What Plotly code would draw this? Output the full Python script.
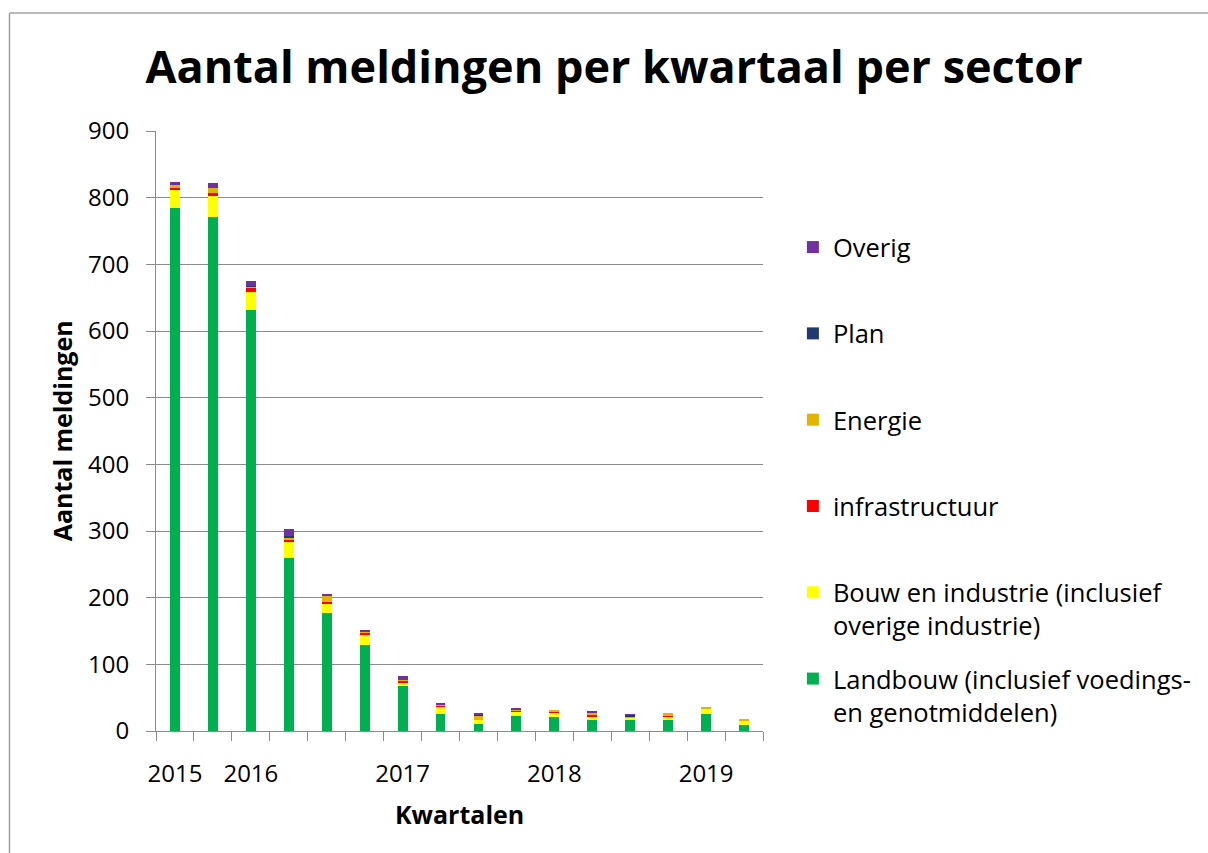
import plotly.graph_objects as go

# ---------------- data ----------------
quarters = ["2015 Q3", "2015 Q4", "2016 Q1", "2016 Q2", "2016 Q3", "2016 Q4",
            "2017 Q1", "2017 Q2", "2017 Q3", "2017 Q4", "2018 Q1", "2018 Q2",
            "2018 Q3", "2018 Q4", "2019 Q1", "2019 Q2"]
landbouw = [785, 771, 631, 260, 177, 129, 68, 26, 11, 22, 21, 16, 16, 17, 26, 9]
bouw = [26, 32, 27, 24, 14, 15, 5, 11, 6, 7, 7, 6, 4, 4, 8, 7]
infrastructuur = [4, 4, 7, 3, 2, 3, 2, 1, 0, 1, 1, 2, 0, 1, 0, 0]
energie = [4, 8, 2, 2, 10, 2, 2, 1, 6, 2, 2, 3, 2, 5, 2, 1]
plan = [0, 0, 1, 3, 0, 0, 0, 0, 2, 0, 0, 0, 2, 0, 0, 0]
overig = [5, 7, 7, 11, 2, 3, 6, 3, 1, 2, 0, 3, 1, 0, 0, 0]

tick_positions = [1, 3, 7, 11, 15]
tick_labels = ["2015", "2016", "2017", "2018", "2019"]

series = [
    ("Landbouw (inclusief voedings-<br>en genotmiddelen)", landbouw, "#00B050"),
    ("Bouw en industrie (inclusief<br>overige industrie)", bouw, "#FFFF00"),
    ("infrastructuur<br> ", infrastructuur, "#FF0000"),
    ("Energie<br> ", energie, "#E0B400"),
    ("Plan<br> ", plan, "#1F3A6E"),
    ("Overig<br> ", overig, "#7030A0"),
]

# ---------------- layout geometry ----------------
W, H = 1208, 853
ML, MR, MT, MB = 156, 443, 131, 122
PW, PH = W - ML - MR, H - MT - MB


def px_x(p):
    return (p - ML) / PW


def px_y(p):
    return (H - MB - p) / PH


FONT = "Open Sans"
xs = list(range(1, len(quarters) + 1))

fig = go.Figure()
n = len(series)
for i, (name, vals, col) in enumerate(series):
    fig.add_trace(go.Bar(
        x=xs, y=vals, name=name, marker=dict(color=col, line=dict(width=0)),
        legendgroup=str(i), legendrank=n - i, customdata=quarters,
        hovertemplate="%{customdata}: %{y}<extra></extra>",
    ))

fig.update_layout(
    width=W, height=H,
    barmode="stack", bargap=0.74,
    margin=dict(l=ML, r=MR, t=MT, b=MB),
    paper_bgcolor="white", plot_bgcolor="white",
    font=dict(family=FONT, size=24, color="black"),
    title=dict(text="<b>Aantal meldingen per kwartaal per sector</b>",
               x=614 / W, y=1 - 67 / H, xref="container", yref="container",
               xanchor="center", yanchor="middle",
               font=dict(family=FONT, size=45, color="black")),
    legend=dict(x=px_x(795), y=px_y(224), xanchor="left", yanchor="top",
                traceorder="grouped", tracegroupgap=17, valign="top",
                font=dict(family=FONT, size=25.5, color="black"),
                bgcolor="rgba(0,0,0,0)"),
    showlegend=True,
)

fig.update_yaxes(
    range=[0, 900], dtick=100, tick0=0,
    showgrid=True, gridcolor="#8C8C8C", gridwidth=1,
    showline=True, linecolor="#8C8C8C", linewidth=1,
    ticks="outside", ticklen=9, tickcolor="#8C8C8C",
    ticklabelstandoff=12, zeroline=False,
    tickfont=dict(family=FONT, size=24, color="black"),
)
fig.update_xaxes(
    range=[0.5, len(quarters) + 0.5],
    tickmode="array", tickvals=tick_positions, ticktext=tick_labels,
    ticks="outside", ticklen=9, tickcolor="rgba(0,0,0,0)",
    ticklabelstandoff=12,
    showline=True, linecolor="#8C8C8C", linewidth=1,
    showgrid=False, zeroline=False,
    tickfont=dict(family=FONT, size=24, color="black"),
    minor=dict(tickmode="linear", tick0=0.5, dtick=1, ticks="outside",
               ticklen=9, tickcolor="#8C8C8C", showgrid=False),
)

# axis titles
fig.add_annotation(text="<b>Aantal meldingen</b>", xref="paper", yref="paper",
                   x=px_x(62), y=px_y(431), textangle=-90, showarrow=False,
                   xanchor="center", yanchor="middle",
                   font=dict(family=FONT, size=25, color="black"))
fig.add_annotation(text="<b>Kwartalen</b>", xref="paper", yref="paper",
                   x=px_x(460), y=px_y(814), showarrow=False,
                   xanchor="center", yanchor="middle",
                   font=dict(family=FONT, size=25, color="black"))

# chart-area border (top and left visible)
fig.add_shape(type="line", xref="paper", yref="paper",
              x0=px_x(9), x1=px_x(W + 5), y0=px_y(13), y1=px_y(13),
              line=dict(color="#A0A0A0", width=1.5))
fig.add_shape(type="line", xref="paper", yref="paper",
              x0=px_x(9), x1=px_x(9), y0=px_y(13), y1=px_y(H + 5),
              line=dict(color="#A0A0A0", width=1.5))

fig.write_html("out.html")
